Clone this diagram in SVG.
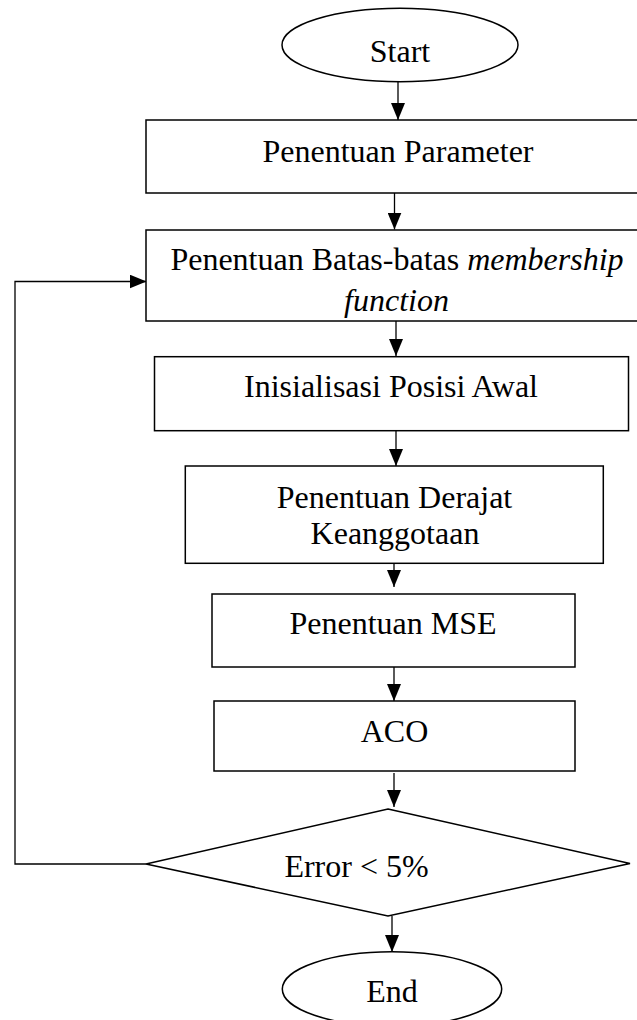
<svg xmlns="http://www.w3.org/2000/svg" width="637" height="1020" viewBox="0 0 637 1020">
<style>
.shape{fill:#fff;stroke:#000;stroke-width:1.5}
.conn{fill:none;stroke:#000;stroke-width:1.3}
.lbl{font-family:"Liberation Serif","Times New Roman",serif;font-size:32px;fill:#000;text-anchor:middle}
.it{font-style:italic}
</style>
<defs>
<marker id="arr" markerUnits="userSpaceOnUse" markerWidth="18" markerHeight="14" viewBox="0 0 18 14" refX="17" refY="7" orient="auto">
<path d="M0,0 L17,7 L0,14 Z" fill="#000"/>
</marker>
</defs>
<rect width="637" height="1020" fill="#fff"/>
<g id="connectors">
<line class="conn" x1="398" y1="82" x2="398" y2="120" marker-end="url(#arr)"/>
<line class="conn" x1="394.5" y1="193" x2="394.5" y2="229.5" marker-end="url(#arr)"/>
<line class="conn" x1="396" y1="321" x2="396" y2="356" marker-end="url(#arr)"/>
<line class="conn" x1="396" y1="431" x2="396" y2="466" marker-end="url(#arr)"/>
<line class="conn" x1="394" y1="553" x2="394" y2="587" marker-end="url(#arr)"/>
<line class="conn" x1="394" y1="667" x2="394" y2="701" marker-end="url(#arr)"/>
<line class="conn" x1="394" y1="773" x2="394" y2="807" marker-end="url(#arr)"/>
<line class="conn" x1="392" y1="916" x2="392" y2="952" marker-end="url(#arr)"/>
<polyline class="conn" points="146,864 15,864 15,281.5 146.5,281.5" marker-end="url(#arr)"/>
</g>
<g id="start">
<ellipse class="shape" cx="400" cy="45" rx="118" ry="36.7"/>
<text class="lbl" x="400" y="62">Start</text>
</g>
<g id="parameter">
<rect class="shape" x="146" y="120" width="500" height="73"/>
<text class="lbl" x="398" y="161.5">Penentuan Parameter</text>
</g>
<g id="membership">
<rect class="shape" x="146" y="230" width="500" height="91"/>
<text class="lbl" x="397" y="270">Penentuan Batas-batas <tspan class="it">membership</tspan></text>
<text class="lbl it" x="396.5" y="311">function</text>
</g>
<g id="inisialisasi">
<rect class="shape" x="154.5" y="356.7" width="474" height="74"/>
<text class="lbl" x="391" y="397">Inisialisasi Posisi Awal</text>
</g>
<g id="derajat">
<rect class="shape" x="185.3" y="466" width="418" height="97.3"/>
<text class="lbl" x="394.5" y="508">Penentuan Derajat</text>
<text class="lbl" x="395" y="544">Keanggotaan</text>
</g>
<g id="mse">
<rect class="shape" x="212" y="594" width="363" height="73"/>
<text class="lbl" x="393" y="634">Penentuan MSE</text>
</g>
<g id="aco">
<rect class="shape" x="214" y="701" width="361" height="70"/>
<text class="lbl" x="394.5" y="741.5">ACO</text>
</g>
<g id="decision">
<polygon class="shape" points="388,809 630,863.5 388,916 146,864"/>
<text class="lbl" x="356.5" y="876.5">Error &lt; 5%</text>
</g>
<g id="end">
<ellipse class="shape" cx="392" cy="989" rx="109.7" ry="37.2"/>
<text class="lbl" x="392" y="1002">End</text>
</g>
</svg>
